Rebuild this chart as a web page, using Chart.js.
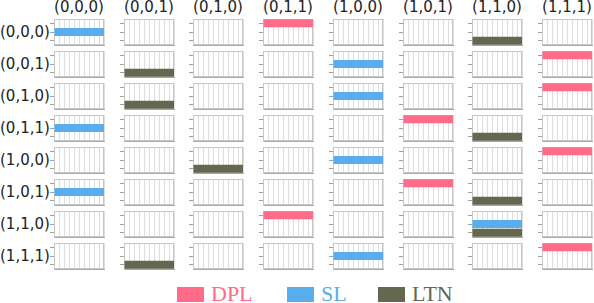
<!DOCTYPE html>
<html>
<head>
<meta charset="utf-8">
<script src="https://cdn.jsdelivr.net/npm/chart.js@4.4.1/dist/chart.umd.min.js"></script>
<style>
  body { margin: 0; width: 594px; height: 303px; background: #fff; position: relative; overflow: hidden; font-family: "DejaVu Sans", sans-serif; }
  canvas.panel { position: absolute; }
  .col-label { position: absolute; width: 70px; text-align: center; font-size: 15px; line-height: 17px; color: #222; }
  .row-label { position: absolute; left: 0; width: 47px; text-align: right; font-size: 15px; line-height: 17px; color: #222; }
  .legend-box { position: absolute; width: 27px; height: 15px; }
  .legend-text { position: absolute; font-family: "Liberation Serif", serif; font-size: 22px; line-height: 22px; }
</style>
</head>
<body>
<script>
const combos = ['(0,0,0)', '(0,0,1)', '(0,1,0)', '(0,1,1)', '(1,0,0)', '(1,0,1)', '(1,1,0)', '(1,1,1)'];
const methods = ['DPL', 'SL', 'LTN'];
const methodColors = ['#ff6b88', '#5aadec', '#646850'];

// row = row combo, column = column combo, 1 = full bar
const dpl = [
  [0, 0, 0, 1, 0, 0, 0, 0],
  [0, 0, 0, 0, 0, 0, 0, 1],
  [0, 0, 0, 0, 0, 0, 0, 1],
  [0, 0, 0, 0, 0, 1, 0, 0],
  [0, 0, 0, 0, 0, 0, 0, 1],
  [0, 0, 0, 0, 0, 1, 0, 0],
  [0, 0, 0, 1, 0, 0, 0, 0],
  [0, 0, 0, 0, 0, 0, 0, 1]
];
const sl = [
  [1, 0, 0, 0, 0, 0, 0, 0],
  [0, 0, 0, 0, 1, 0, 0, 0],
  [0, 0, 0, 0, 1, 0, 0, 0],
  [1, 0, 0, 0, 0, 0, 0, 0],
  [0, 0, 0, 0, 1, 0, 0, 0],
  [1, 0, 0, 0, 0, 0, 0, 0],
  [0, 0, 0, 0, 0, 0, 1, 0],
  [0, 0, 0, 0, 1, 0, 0, 0]
];
const ltn = [
  [0, 0, 0, 0, 0, 0, 1, 0],
  [0, 1, 0, 0, 0, 0, 0, 0],
  [0, 1, 0, 0, 0, 0, 0, 0],
  [0, 0, 0, 0, 0, 0, 1, 0],
  [0, 0, 1, 0, 0, 0, 0, 0],
  [0, 0, 0, 0, 0, 0, 1, 0],
  [0, 0, 0, 0, 0, 0, 1, 0],
  [0, 1, 0, 0, 0, 0, 0, 0]
];

const xMax = 1;
const xStep = 0.1;

// box around each small panel
const panelFrame = {
  id: 'panelFrame',
  beforeDatasetsDraw(chart) {
    const a = chart.chartArea;
    const ctx = chart.ctx;
    ctx.save();
    ctx.strokeStyle = '#c6c6c6';
    ctx.lineWidth = 1;
    ctx.strokeRect(Math.round(a.left) + 0.5, Math.round(a.top) + 0.5, Math.round(a.width) - 1, Math.round(a.height) - 1);
    ctx.restore();
  }
};

const tickLen = 4;
const panelW = 50;
const panelH = 26;

function panelLeft(c) { return Math.round(54 + 69.7 * c); }
function panelTop(r) { return Math.round(18.5 + 32 * r); }

combos.forEach((name, c) => {
  const lab = document.createElement('div');
  lab.className = 'col-label';
  lab.textContent = name;
  lab.style.left = (panelLeft(c) + panelW / 2 - 35) + 'px';
  lab.style.top = '-1px';
  document.body.appendChild(lab);
});

combos.forEach((name, r) => {
  const lab = document.createElement('div');
  lab.className = 'row-label';
  lab.textContent = name;
  lab.style.top = (panelTop(r) + 5) + 'px';
  document.body.appendChild(lab);

  combos.forEach((_, c) => {
    const canvas = document.createElement('canvas');
    canvas.className = 'panel';
    canvas.width = tickLen + panelW + 1;
    canvas.height = panelH + 2;
    canvas.style.left = (panelLeft(c) - tickLen) + 'px';
    canvas.style.top = (panelTop(r) - 1) + 'px';
    document.body.appendChild(canvas);

    new Chart(canvas, {
      type: 'bar',
      data: {
        labels: methods,
        datasets: [{
          data: [dpl[r][c], sl[r][c], ltn[r][c]],
          backgroundColor: methodColors,
          borderWidth: 0,
          barPercentage: 0.92,
          categoryPercentage: 1
        }]
      },
      options: {
        indexAxis: 'y',
        responsive: false,
        animation: false,
        events: [],
        layout: { padding: { top: 1, right: 1, bottom: 1 } },
        plugins: { legend: { display: false }, tooltip: { enabled: false } },
        scales: {
          x: {
            min: 0, max: xMax,
            ticks: { display: false, stepSize: xStep },
            grid: { color: '#dedede', drawTicks: false },
            border: { color: '#a8a8a8' }
          },
          y: {
            ticks: { display: false },
            grid: { offset: false, drawOnChartArea: false, tickLength: tickLen, tickColor: '#a0a0a0' },
            border: { color: '#c6c6c6' }
          }
        }
      },
      plugins: [panelFrame]
    });
  });
});

// legend
const legendLeft = [177, 287, 378];
methods.forEach((m, i) => {
  const box = document.createElement('div');
  box.className = 'legend-box';
  box.style.background = methodColors[i];
  box.style.left = legendLeft[i] + 'px';
  box.style.top = '287px';
  document.body.appendChild(box);

  const txt = document.createElement('div');
  txt.className = 'legend-text';
  txt.textContent = m;
  txt.style.color = methodColors[i];
  txt.style.left = (legendLeft[i] + 34) + 'px';
  txt.style.top = '283px';
  document.body.appendChild(txt);
});
</script>
</body>
</html>
